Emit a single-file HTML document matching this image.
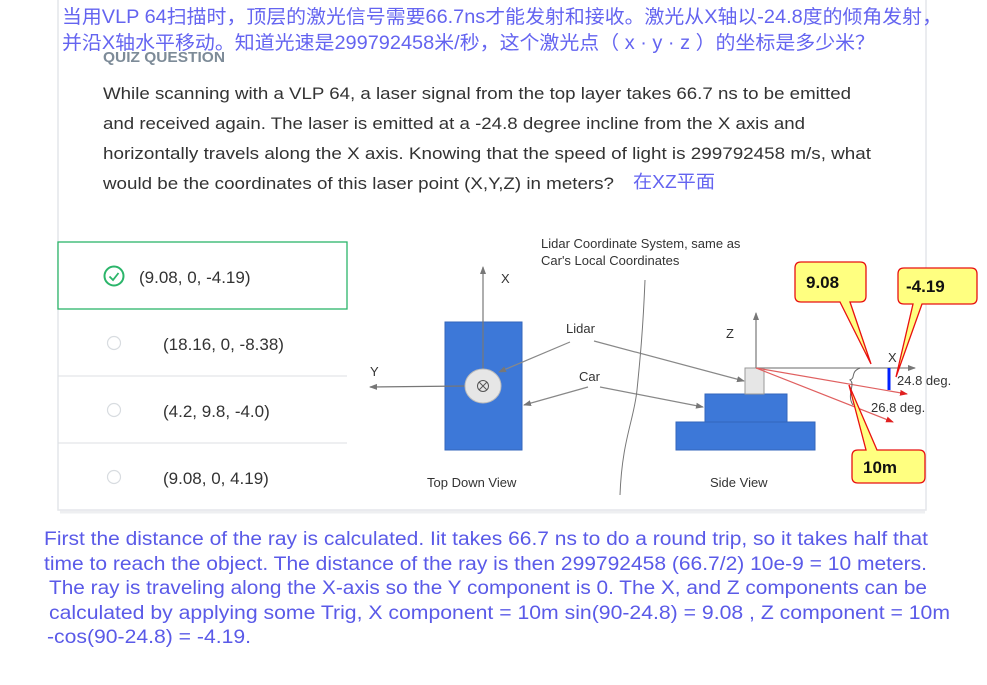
<!DOCTYPE html>
<html><head><meta charset="utf-8"><style>
html,body{margin:0;padding:0;background:#fff;width:987px;height:685px;overflow:hidden}
svg{display:block}
text{font-family:"Liberation Sans","Noto Sans CJK SC",sans-serif}
</style></head><body>
<svg width="987" height="685" viewBox="0 0 987 685" xmlns="http://www.w3.org/2000/svg">
<defs>
<marker id="ag" markerWidth="8" markerHeight="8" refX="7" refY="4" orient="auto" markerUnits="userSpaceOnUse"><path d="M0,1 L8,4 L0,7 z" fill="#777"/></marker>
<marker id="ar" markerWidth="8" markerHeight="8" refX="7" refY="4" orient="auto" markerUnits="userSpaceOnUse"><path d="M0,1 L8,4 L0,7 z" fill="#e02020"/></marker>
</defs>
<rect x="58" y="-2" width="868" height="512" fill="#fff" stroke="#e4e6ea" stroke-width="1.5"/>
<line x1="60" y1="512" x2="925" y2="512" stroke="#eeeff1" stroke-width="3"/>
<text x="62" y="23" font-size="19" fill="#6464f0" textLength="880" lengthAdjust="spacingAndGlyphs">当用VLP 64扫描时，顶层的激光信号需要66.7ns才能发射和接收。激光从X轴以-24.8度的倾角发射，</text>
<text x="62" y="49" font-size="19" fill="#6464f0" textLength="813" lengthAdjust="spacingAndGlyphs">并沿X轴水平移动。知道光速是299792458米/秒，这个激光点（ x · y · z ）的坐标是多少米？</text>
<text x="103" y="62" font-size="15" fill="#7d8b98" font-weight="bold" textLength="122" lengthAdjust="spacingAndGlyphs">QUIZ QUESTION</text>
<g font-size="17" fill="#333">
<text x="103" y="99" textLength="748" lengthAdjust="spacingAndGlyphs">While scanning with a VLP 64, a laser signal from the top layer takes 66.7 ns to be emitted</text>
<text x="103" y="129" textLength="702" lengthAdjust="spacingAndGlyphs">and received again. The laser is emitted at a -24.8 degree incline from the X axis and</text>
<text x="103" y="159" textLength="768" lengthAdjust="spacingAndGlyphs">horizontally travels along the X axis. Knowing that the speed of light is 299792458 m/s, what</text>
<text x="103" y="189" textLength="511" lengthAdjust="spacingAndGlyphs">would be the coordinates of this laser point (X,Y,Z) in meters?</text>
</g>
<text x="633" y="188" font-size="18" fill="#6464f0" textLength="82" lengthAdjust="spacingAndGlyphs">在XZ平面</text>
<rect x="58" y="242" width="289" height="67" fill="#fff" stroke="#2bb56a" stroke-width="1.3"/>
<line x1="58" y1="376" x2="347" y2="376" stroke="#dcdfe3"/>
<line x1="58" y1="443" x2="347" y2="443" stroke="#dcdfe3"/>
<circle cx="114" cy="276" r="9.5" fill="none" stroke="#2bb56a" stroke-width="2"/>
<path d="M109.5,276.5 L113,280 L118.5,273" fill="none" stroke="#2bb56a" stroke-width="1.8"/>
<circle cx="114" cy="343" r="6.5" fill="none" stroke="#d8dce0" stroke-width="1.2"/>
<circle cx="114" cy="410" r="6.5" fill="none" stroke="#d8dce0" stroke-width="1.2"/>
<circle cx="114" cy="477" r="6.5" fill="none" stroke="#d8dce0" stroke-width="1.2"/>
<g font-size="17" fill="#333">
<text x="139" y="283">(9.08, 0, -4.19)</text>
<text x="163" y="350">(18.16, 0, -8.38)</text>
<text x="163" y="417">(4.2, 9.8, -4.0)</text>
<text x="163" y="484">(9.08, 0, 4.19)</text>
</g>
<g font-size="13" fill="#333">
<text x="541" y="248">Lidar Coordinate System, same as</text>
<text x="541" y="265">Car's Local Coordinates</text>
<text x="427" y="487">Top Down View</text>
<text x="710" y="487">Side View</text>
<text x="501" y="283">X</text>
<text x="370" y="376">Y</text>
<text x="506" y="390">Z</text>
<text x="566" y="333">Lidar</text>
<text x="579" y="381">Car</text>
<text x="726" y="338">Z</text>
<text x="888" y="362">X</text>
<text x="897" y="385">24.8 deg.</text>
<text x="871" y="412">26.8 deg.</text>
</g>
<rect x="445" y="322" width="77" height="128" fill="#3d78d8" stroke="#3366bb"/>
<line x1="483" y1="386" x2="483" y2="267" stroke="#777" stroke-width="1.2" marker-end="url(#ag)"/>
<line x1="466" y1="386" x2="370" y2="387" stroke="#777" stroke-width="1.2" marker-end="url(#ag)"/>
<ellipse cx="483" cy="386" rx="18" ry="17" fill="#e6e6e6" stroke="#bbb"/>
<circle cx="483" cy="386" r="5.5" fill="none" stroke="#555"/>
<path d="M479,382 L487,390 M487,382 L479,390" stroke="#555"/>
<line x1="570" y1="342" x2="499" y2="372" stroke="#888" stroke-width="1.2" marker-end="url(#ag)"/>
<line x1="594" y1="341" x2="744" y2="381" stroke="#888" stroke-width="1.2" marker-end="url(#ag)"/>
<line x1="588" y1="387" x2="524" y2="405" stroke="#888" stroke-width="1.2" marker-end="url(#ag)"/>
<line x1="600" y1="387" x2="703" y2="407" stroke="#888" stroke-width="1.2" marker-end="url(#ag)"/>
<path d="M645,280 C643,330 640,360 637,390 C634,420 622,440 620,495" fill="none" stroke="#777" stroke-width="1"/>
<rect x="676" y="422" width="139" height="28" fill="#3d78d8" stroke="#3366bb"/>
<rect x="705" y="394" width="82" height="28" fill="#3d78d8" stroke="#3366bb"/>
<rect x="745" y="368" width="19" height="26" fill="#e6e6e6" stroke="#999"/>
<line x1="756" y1="368" x2="756" y2="313" stroke="#777" stroke-width="1.2" marker-end="url(#ag)"/>
<line x1="756" y1="368" x2="915" y2="368" stroke="#888" stroke-width="1.2" marker-end="url(#ag)"/>
<line x1="756" y1="368" x2="907" y2="394" stroke="#e06060" stroke-width="1.2" marker-end="url(#ar)"/>
<line x1="756" y1="368" x2="893" y2="422" stroke="#e06060" stroke-width="1.2" marker-end="url(#ar)"/>
<path d="M860,368 C850,372 856,378 850,380 C856,384 846,395 853,405" fill="none" stroke="#666" stroke-width="1"/>
<line x1="889" y1="368" x2="889" y2="390" stroke="#0020ff" stroke-width="3"/>
<g stroke="#e81010" stroke-width="1.3" fill="#ffff80">
<path d="M801,262 H860 Q866,262 866,268 V296 Q866,302 860,302 H850 L871,364 L840,302 H801 Q795,302 795,296 V268 Q795,262 801,262 Z"/>
<path d="M904,268 H971 Q977,268 977,274 V298 Q977,304 971,304 H922 L896,377 L913,304 H904 Q898,304 898,298 V274 Q898,268 904,268 Z"/>
<path d="M858,450 H866 L849,385 L877,450 H919 Q925,450 925,456 V477 Q925,483 919,483 H858 Q852,483 852,477 V456 Q852,450 858,450 Z"/>
</g>
<g font-family="Liberation Mono,monospace" font-weight="bold" font-size="17" fill="#111">
<text x="806" y="288">9.08</text>
<text x="906" y="292">-4.19</text>
<text x="863" y="473">10m</text>
</g>
<g font-size="19" fill="#5a5ae8">
<text x="44" y="545" textLength="884" lengthAdjust="spacingAndGlyphs">First the distance of the ray is calculated. Iit takes 66.7 ns to do a round trip, so it takes half that</text>
<text x="44" y="570" textLength="883" lengthAdjust="spacingAndGlyphs">time to reach the object. The distance of the ray is then 299792458 (66.7/2) 10e-9 = 10 meters.</text>
<text x="49" y="594" textLength="878" lengthAdjust="spacingAndGlyphs">The ray is traveling along the X-axis so the Y component is 0. The X, and Z components can be</text>
<text x="49" y="619" textLength="901" lengthAdjust="spacingAndGlyphs">calculated by applying some Trig, X component = 10m sin(90-24.8) = 9.08 , Z component = 10m</text>
<text x="47" y="643" textLength="204" lengthAdjust="spacingAndGlyphs">-cos(90-24.8) = -4.19.</text>
</g>
</svg>
</body></html>
